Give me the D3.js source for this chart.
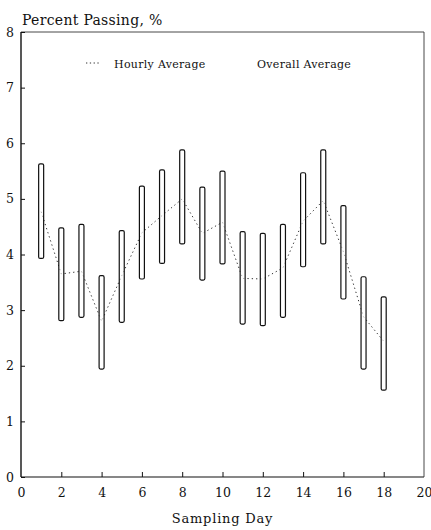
<!DOCTYPE html>
<html>
<head>
<meta charset="utf-8">
<script src="https://cdn.jsdelivr.net/npm/d3@7/dist/d3.min.js"></script>
<style>
  html, body { margin: 0; padding: 0; background: #fff; }
  svg { display: block; }
  text { font-family: "DejaVu Serif", "Liberation Serif", serif; fill: #111; }
</style>
</head>
<body>
<svg id="chart" width="431" height="530"></svg>
<script>
// Sampling days and the range / hourly average of percent passing per day
const days = [1, 2, 3, 4, 5, 6, 7, 8, 9, 10, 11, 12, 13, 14, 15, 16, 17, 18];
const rangeLow  = [3.93, 2.81, 2.87, 1.94, 2.78, 3.56, 3.84, 4.19, 3.54, 3.83, 2.75, 2.72, 2.87, 3.78, 4.19, 3.20, 1.94, 1.56];
const rangeHigh = [5.63, 4.48, 4.54, 3.62, 4.43, 5.23, 5.52, 5.88, 5.21, 5.50, 4.41, 4.38, 4.54, 5.47, 5.88, 4.88, 3.60, 3.24];
const hourlyAvg = [4.77, 3.65, 3.70, 2.80, 3.62, 4.39, 4.70, 5.00, 4.38, 4.58, 3.57, 3.56, 3.76, 4.60, 4.97, 4.05, 2.88, 2.44];
const xTicks = [0, 2, 4, 6, 8, 10, 12, 14, 16, 18, 20];
const yTicks = [0, 1, 2, 3, 4, 5, 6, 7, 8];

const svg = d3.select("#chart");
const plotL = 21, plotR = 424, plotT = 32, plotB = 477;

const x = d3.scaleLinear().domain([0, 20]).range([plotL, plotR]);
const y = d3.scaleLinear().domain([0, 8]).range([plotB, plotT]);

// Frame
svg.append("line").attr("x1", plotL).attr("x2", plotL).attr("y1", plotT).attr("y2", plotB)
  .attr("stroke", "#111").attr("stroke-width", 1.4);
svg.append("line").attr("x1", plotL).attr("x2", plotR).attr("y1", plotB).attr("y2", plotB)
  .attr("stroke", "#111").attr("stroke-width", 1.2);
svg.append("line").attr("x1", plotL).attr("x2", plotR).attr("y1", plotT).attr("y2", plotT)
  .attr("stroke", "#333").attr("stroke-width", 0.9);
svg.append("line").attr("x1", plotR).attr("x2", plotR).attr("y1", plotT).attr("y2", plotB)
  .attr("stroke", "#333").attr("stroke-width", 0.9);

// Y axis: inward ticks, labels on the left
const yAxis = d3.axisRight(y).tickValues(yTicks).tickSize(4).tickFormat(d3.format("d"));
const gy = svg.append("g").attr("transform", `translate(${plotL},0)`).call(yAxis);
gy.select(".domain").remove();
gy.selectAll(".tick line").attr("stroke", "#111");
gy.selectAll(".tick text").attr("x", -7).attr("text-anchor", "end")
  .attr("font-size", 12.5).attr("font-family", "DejaVu Serif, serif").attr("fill", "#111");

// X axis: upward ticks, labels below
const xAxis = d3.axisTop(x).tickValues(xTicks).tickSize(5).tickFormat(d3.format("d"));
const gx = svg.append("g").attr("transform", `translate(0,${plotB})`).call(xAxis);
gx.select(".domain").remove();
gx.selectAll(".tick line").attr("stroke", "#111")
  .attr("display", d => (d === 0 || d === 20) ? "none" : null);
gx.selectAll(".tick text").attr("y", 20).attr("dy", "0")
  .attr("font-size", 12.5).attr("font-family", "DejaVu Serif, serif").attr("fill", "#111");

// Hourly average dotted line
const line = d3.line().x((d, i) => x(days[i])).y(d => y(d));
svg.append("path").datum(hourlyAvg).attr("d", line)
  .attr("fill", "none").attr("stroke", "#333").attr("stroke-width", 1)
  .attr("stroke-dasharray", "1.3,3");

// Range bars
const barW = 5;
svg.selectAll("rect.range").data(days).enter().append("rect")
  .attr("class", "range")
  .attr("x", (d) => x(d) - barW / 2)
  .attr("y", (d, i) => y(rangeHigh[i]))
  .attr("width", barW)
  .attr("height", (d, i) => y(rangeLow[i]) - y(rangeHigh[i]))
  .attr("rx", 1.5)
  .attr("fill", "#fff").attr("fill-opacity", 0.6)
  .attr("stroke", "#111").attr("stroke-width", 1.2);

// Titles
svg.append("text").attr("x", 22).attr("y", 25).attr("font-size", 14)
  .attr("letter-spacing", 0.3).text("Percent Passing, %");
svg.append("text").attr("x", (plotL + plotR) / 2).attr("y", 523).attr("text-anchor", "middle")
  .attr("font-size", 13).attr("letter-spacing", 0.8).text("Sampling Day");

// Legend
svg.append("line").attr("x1", 86).attr("x2", 101).attr("y1", 63).attr("y2", 63)
  .attr("stroke", "#333").attr("stroke-width", 1).attr("stroke-dasharray", "1.3,2.5");
svg.append("text").attr("x", 114).attr("y", 68).attr("font-size", 11).attr("letter-spacing", 0.3)
  .text("Hourly Average");
svg.append("text").attr("x", 257).attr("y", 68).attr("font-size", 11).attr("letter-spacing", 0.3)
  .text("Overall Average");
</script>
</body>
</html>
